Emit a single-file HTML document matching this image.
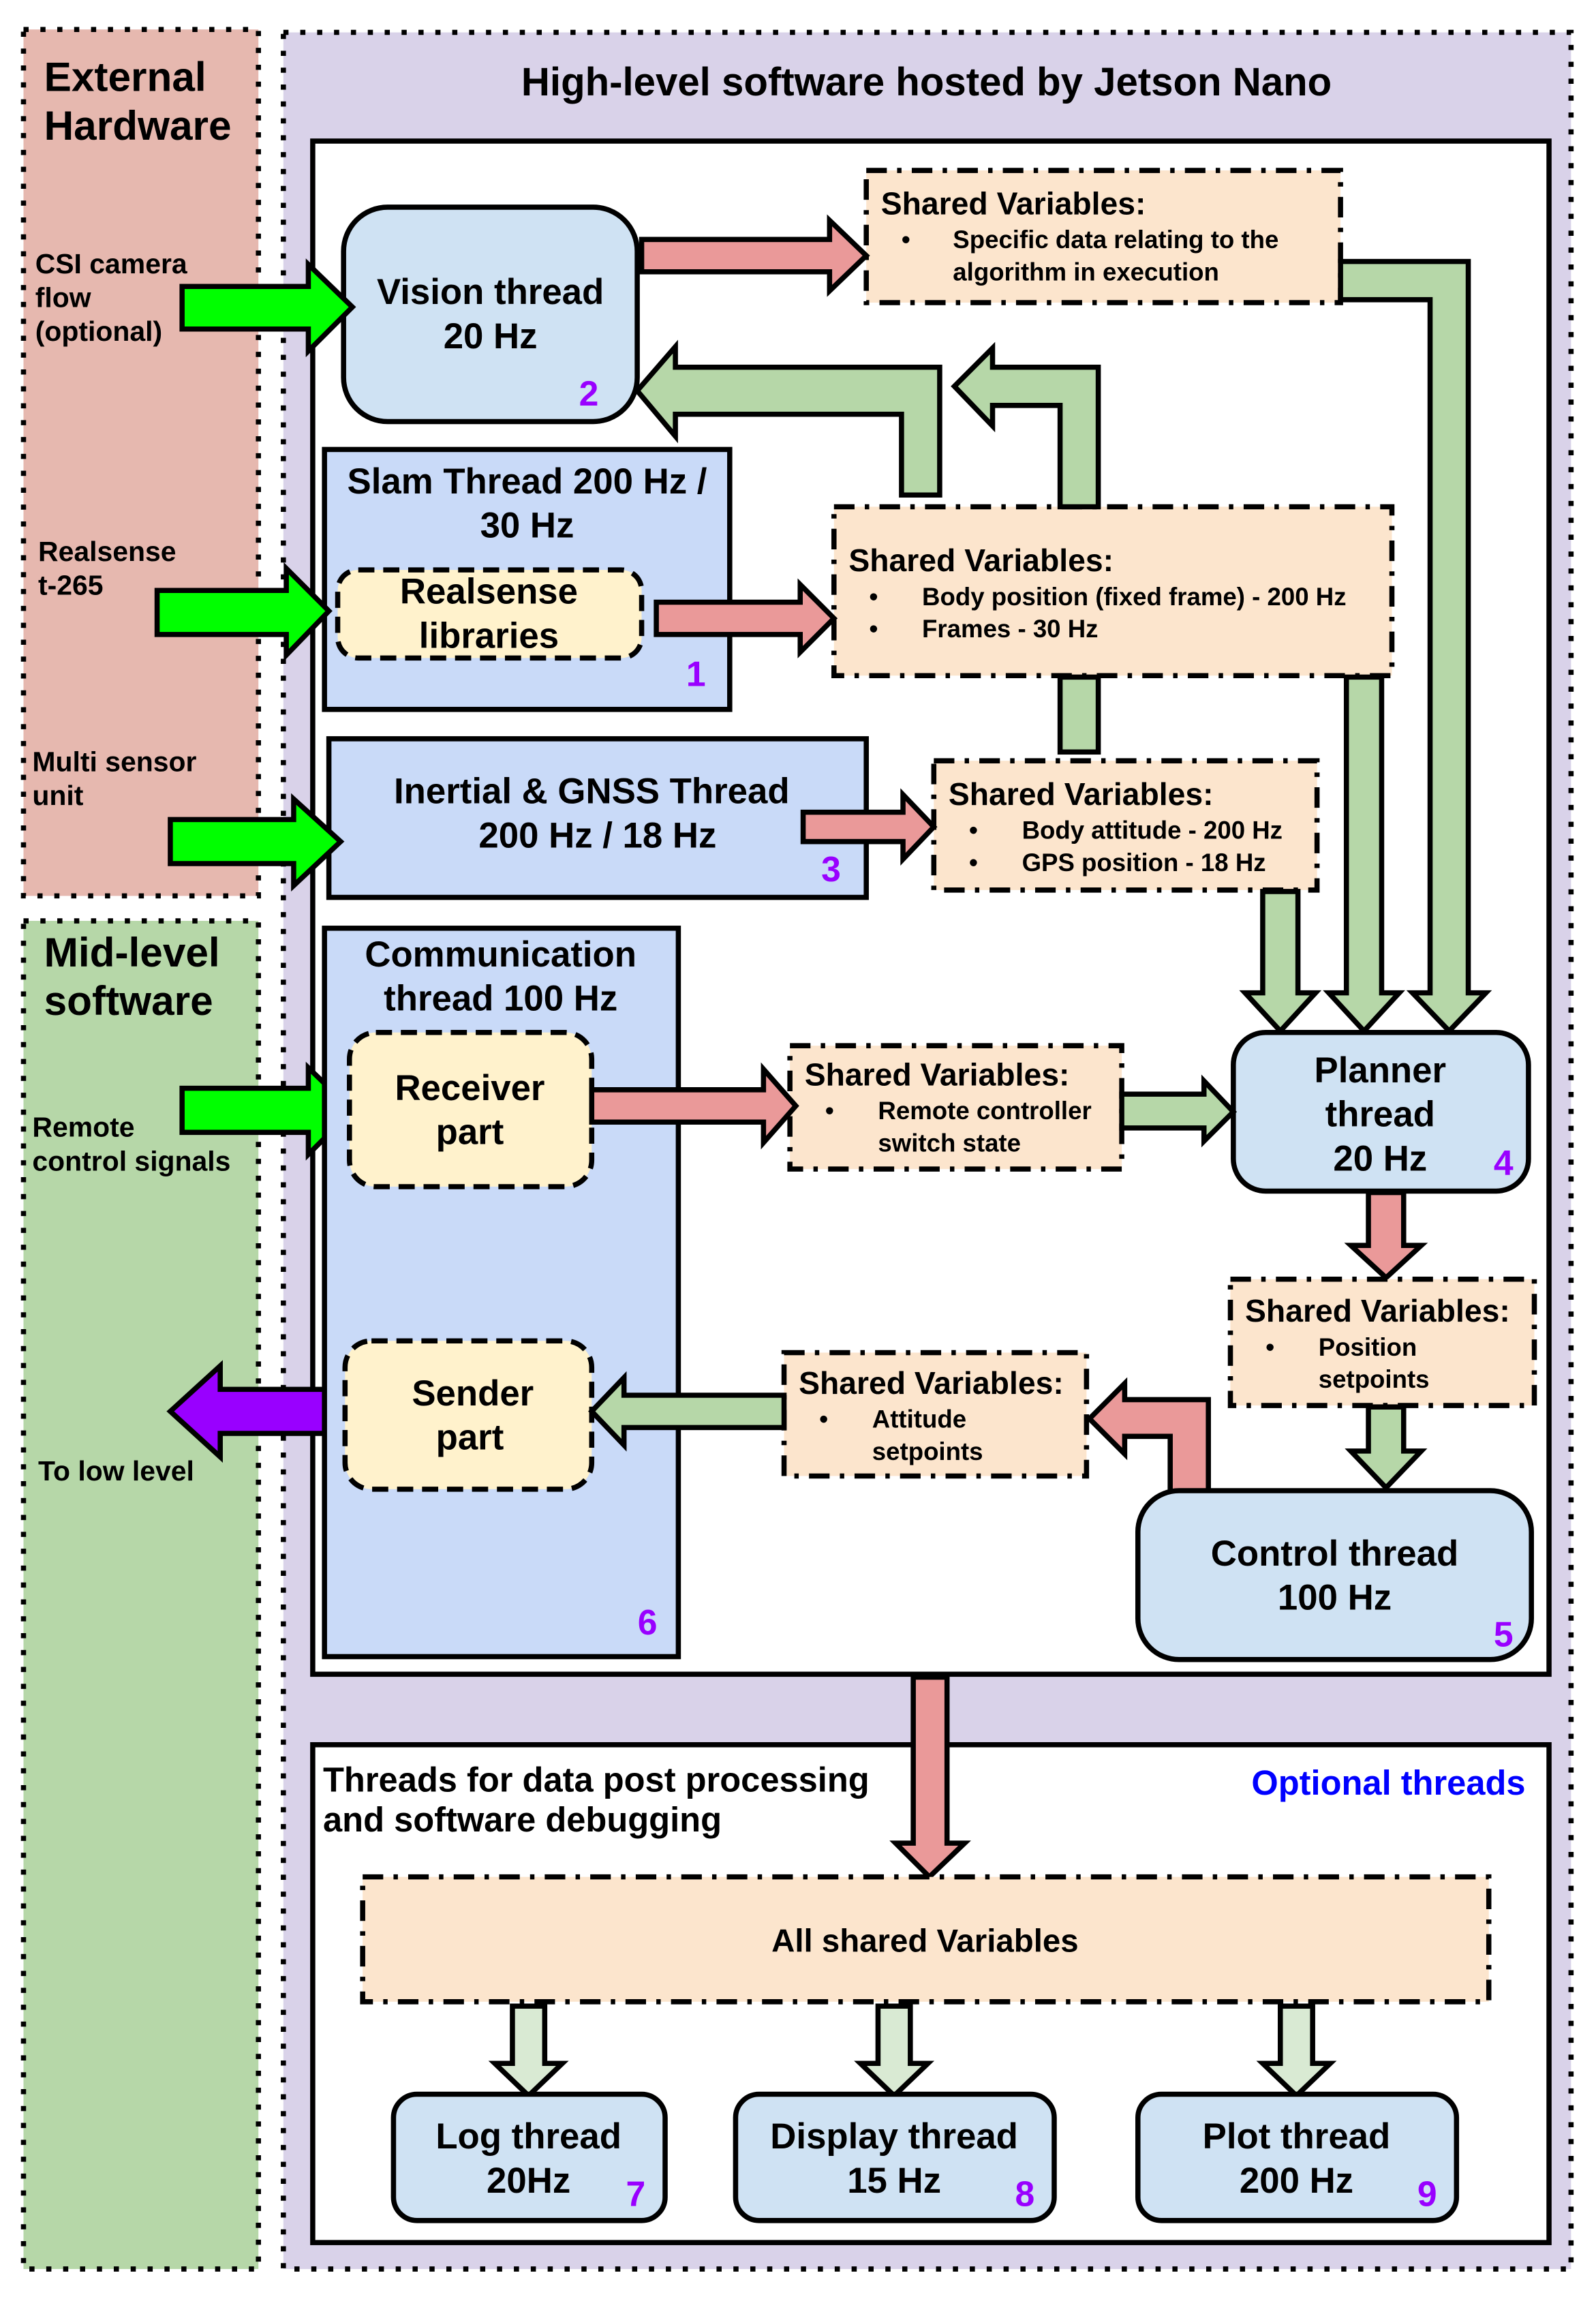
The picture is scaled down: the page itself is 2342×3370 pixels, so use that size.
<!DOCTYPE html>
<html><head><meta charset="utf-8"><style>
html,body{margin:0;padding:0;background:#fff;}
svg{display:block;}
text{font-family:"Liberation Sans",Arial,sans-serif;font-weight:bold;fill:#000;}
.t{font-size:24.5px;text-anchor:middle;}
.sv{font-size:21.5px;}
.b{font-size:17px;font-weight:bold;}
.n{font-size:24px;fill:#9900ff;text-anchor:middle;}
.lbl{font-size:19px;}
.ar{stroke:#000;stroke-width:3.5;stroke-linejoin:miter;}
.shv{fill:#fce5cd;stroke:#000;stroke-width:3.5;stroke-dasharray:14 7 3 7;}
.thr{fill:#cfe2f3;stroke:#000;stroke-width:3.5;}
.dsh{fill:#fff2cc;stroke:#000;stroke-width:3.5;stroke-dasharray:11 6;}
</style></head><body>
<svg width="2342" height="3370" viewBox="0 0 1087 1564" xmlns="http://www.w3.org/2000/svg">
<rect width="1087" height="1564" fill="#fff"/>
<rect x="16" y="20" width="160" height="590" fill="#e6b8af" stroke="#000" stroke-width="3.5" stroke-dasharray="3.5 8"/>
<rect x="16" y="627" width="160" height="918" fill="#b6d7a8" stroke="#000" stroke-width="3.5" stroke-dasharray="3.5 8"/>
<rect x="193" y="22" width="877" height="1523" fill="#d9d2e9" stroke="#000" stroke-width="3.5" stroke-dasharray="3.5 8"/>
<text x="30" y="62" style="font-size:28px">External</text>
<text x="30" y="95" style="font-size:28px">Hardware</text>
<text x="30" y="658" style="font-size:28px">Mid-level</text>
<text x="30" y="691" style="font-size:28px">software</text>
<text class="lbl" x="24" y="186">CSI camera</text>
<text class="lbl" x="24" y="209">flow</text>
<text class="lbl" x="24" y="232">(optional)</text>
<text class="lbl" x="26" y="382">Realsense</text>
<text class="lbl" x="26" y="405">t-265</text>
<text class="lbl" x="22" y="525">Multi sensor</text>
<text class="lbl" x="22" y="548">unit</text>
<text class="lbl" x="22" y="774">Remote</text>
<text class="lbl" x="22" y="797">control signals</text>
<text class="lbl" x="26" y="1008">To low level</text>
<text x="631" y="65" style="font-size:27px;text-anchor:middle">High-level software hosted by Jetson Nano</text>

<rect x="213" y="96" width="842" height="1044" fill="#fff" stroke="#000" stroke-width="3.5"/>
<rect x="213" y="1188" width="842" height="339" fill="#fff" stroke="#000" stroke-width="3.5"/>

<polygon class="ar" fill="#ea9999" points="622,1142 645,1142 645,1255 657,1255 633,1278 610,1255 622,1255"/>

<rect class="thr" x="234" y="141" width="200" height="146" rx="30"/>
<text class="t" x="334" y="207">Vision thread</text>
<text class="t" x="334" y="237">20 Hz</text>
<text class="n" x="401" y="276">2</text>
<rect class="shv" x="590" y="116" width="323" height="90"/>
<text class="sv" x="600" y="146">Shared Variables:</text>
<text class="b" x="614" y="169">•</text><text class="b" x="649" y="169">Specific data relating to the</text>
<text class="b" x="649" y="191">algorithm in execution</text>
<polygon class="ar" fill="#ea9999" points="437,163 565,163 565,150 590,174 565,198 565,185 437,185"/>

<rect x="221" y="306" width="276" height="177" fill="#c9daf8" stroke="#000" stroke-width="3.5"/>
<text class="t" x="359" y="336">Slam Thread 200 Hz /</text>
<text class="t" x="359" y="366">30 Hz</text>
<rect class="dsh" x="230" y="388" width="207" height="60" rx="14"/>
<text class="t" x="333" y="411">Realsense</text>
<text class="t" x="333" y="441">libraries</text>
<text class="n" x="474" y="467">1</text>

<rect class="shv" x="568" y="345" width="380" height="115"/>
<text class="sv" x="578" y="389">Shared Variables:</text>
<text class="b" x="592" y="412">•</text><text class="b" x="628" y="412">Body position (fixed frame) - 200 Hz</text>
<text class="b" x="592" y="434">•</text><text class="b" x="628" y="434">Frames - 30 Hz</text>
<polygon class="ar" fill="#ea9999" points="447,410 545,410 545,398 568,421 545,444 545,432 447,432"/>

<polygon class="ar" fill="#b6d7a8" points="640,337 640,250 460,250 460,236 434,266 460,297 460,282 614,282 614,337"/>
<polygon class="ar" fill="#b6d7a8" points="748,345 748,250 676,250 676,237 650,263 676,290 676,276 722,276 722,345"/>
<rect class="ar" fill="#b6d7a8" x="722" y="461" width="26" height="51"/>

<rect x="224" y="503" width="366" height="108" fill="#c9daf8" stroke="#000" stroke-width="3.5"/>
<text class="t" x="403" y="547">Inertial &amp; GNSS Thread</text>
<text class="t" x="407" y="577">200 Hz / 18 Hz</text>
<text class="n" x="566" y="600">3</text>
<rect class="shv" x="636" y="518" width="261" height="88"/>
<text class="sv" x="646" y="548">Shared Variables:</text>
<text class="b" x="660" y="571">•</text><text class="b" x="696" y="571">Body attitude - 200 Hz</text>
<text class="b" x="660" y="593">•</text><text class="b" x="696" y="593">GPS position  - 18 Hz</text>
<polygon class="ar" fill="#ea9999" points="547,553 615,553 615,541 636,563 615,585 615,573 547,573"/>

<polygon class="ar" fill="#00ff00" stroke-width="2" points="124,195 210,195 210,180 240,209 210,239 210,224 124,224"/>
<polygon class="ar" fill="#00ff00" stroke-width="2" points="107,402 195,402 195,387 224,416 195,446 195,432 107,432"/>
<polygon class="ar" fill="#00ff00" stroke-width="2" points="116,558 200,558 200,544 232,573 200,603 200,588 116,588"/>
<polygon class="ar" fill="#00ff00" stroke-width="2" points="124,741 210,741 210,727 240,756 210,786 210,771 124,771"/>
<polygon class="ar" fill="#9900ff" stroke-width="2" points="236,946 150,946 150,930 116,961 150,992 150,976 236,976"/>

<polygon class="ar" fill="#b6d7a8" points="913,178 1000,178 1000,676 1012,676 987,702 962,676 974,676 974,204 913,204"/>
<polygon class="ar" fill="#b6d7a8" points="917,461 941,461 941,676 953,676 929,702 905,676 917,676"/>
<polygon class="ar" fill="#b6d7a8" points="860,607 884,607 884,676 896,676 872,702 848,676 860,676"/>

<rect class="thr" x="840" y="703" width="201" height="108" rx="22"/>
<text class="t" x="940" y="737">Planner</text>
<text class="t" x="940" y="767">thread</text>
<text class="t" x="940" y="797">20 Hz</text>
<text class="n" x="1024" y="800">4</text>

<rect x="221" y="632" width="241" height="496" fill="#c9daf8" stroke="#000" stroke-width="3.5"/>
<text class="t" x="341" y="658">Communication</text>
<text class="t" x="341" y="688">thread 100 Hz</text>
<text class="n" x="441" y="1113">6</text>
<rect class="dsh" x="238" y="703" width="165" height="105" rx="18"/>
<text class="t" x="320" y="749">Receiver</text>
<text class="t" x="320" y="779">part</text>
<rect class="dsh" x="235" y="913" width="168" height="101" rx="18"/>
<text class="t" x="322" y="957">Sender</text>
<text class="t" x="320" y="987">part</text>

<rect class="shv" x="538" y="712" width="226" height="84"/>
<text class="sv" x="548" y="739">Shared Variables:</text>
<text class="b" x="562" y="762">•</text><text class="b" x="598" y="762">Remote controller</text>
<text class="b" x="598" y="784">switch state</text>
<polygon class="ar" fill="#ea9999" points="403,742 520,742 520,728 542,753 520,778 520,764 403,764"/>
<polygon class="ar" fill="#b6d7a8" points="764,745 820,745 820,736 840,757 820,777 820,768 764,768"/>

<polygon class="ar" fill="#ea9999" points="932,812 956,812 956,848 968,848 944,870 920,848 932,848"/>
<rect class="shv" x="838" y="871" width="207" height="86"/>
<text class="sv" x="848" y="900">Shared Variables:</text>
<text class="b" x="862" y="923">•</text><text class="b" x="898" y="923">Position</text>
<text class="b" x="898" y="945">setpoints</text>
<polygon class="ar" fill="#b6d7a8" points="932,958 956,958 956,988 968,988 944,1013 920,988 932,988"/>

<polygon class="ar" fill="#ea9999" points="823,1016 823,953 766,953 766,942 742,966 766,990 766,978 797,978 797,1016"/>
<rect class="thr" x="775" y="1015" width="268" height="115" rx="28"/>
<text class="t" x="909" y="1066">Control thread</text>
<text class="t" x="909" y="1096">100 Hz</text>
<text class="n" x="1024" y="1121">5</text>

<rect class="shv" x="534" y="921" width="206" height="84"/>
<text class="sv" x="544" y="949">Shared Variables:</text>
<text class="b" x="558" y="972">•</text><text class="b" x="594" y="972">Attitude</text>
<text class="b" x="594" y="994">setpoints</text>
<polygon class="ar" fill="#b6d7a8" points="534,950 425,950 425,938 403,961 425,984 425,972 534,972"/>

<text x="220" y="1220" style="font-size:23.5px">Threads for data post processing</text>
<text x="220" y="1247" style="font-size:23.5px">and software debugging</text>
<text x="1039" y="1222" style="font-size:23.5px;fill:#0000ff;text-anchor:end">Optional threads</text>
<rect class="shv" x="247" y="1278" width="767" height="85"/>
<text x="630" y="1329" style="font-size:22px;text-anchor:middle">All shared Variables</text>

<polygon class="ar" fill="#d9ead3" points="349,1366 371,1366 371,1405 383,1405 360,1427 337,1405 349,1405"/>
<polygon class="ar" fill="#d9ead3" points="598,1366 620,1366 620,1405 632,1405 609,1427 586,1405 598,1405"/>
<polygon class="ar" fill="#d9ead3" points="872,1366 894,1366 894,1405 906,1405 883,1427 860,1405 872,1405"/>

<rect class="thr" x="268" y="1426" width="185" height="86" rx="16"/>
<text class="t" x="360" y="1463">Log thread</text>
<text class="t" x="360" y="1493">20Hz</text>
<text class="n" x="433" y="1502">7</text>
<rect class="thr" x="501" y="1426" width="217" height="86" rx="16"/>
<text class="t" x="609" y="1463">Display thread</text>
<text class="t" x="609" y="1493">15 Hz</text>
<text class="n" x="698" y="1502">8</text>
<rect class="thr" x="775" y="1426" width="217" height="86" rx="16"/>
<text class="t" x="883" y="1463">Plot thread</text>
<text class="t" x="883" y="1493">200 Hz</text>
<text class="n" x="972" y="1502">9</text>
</svg>
</body></html>
